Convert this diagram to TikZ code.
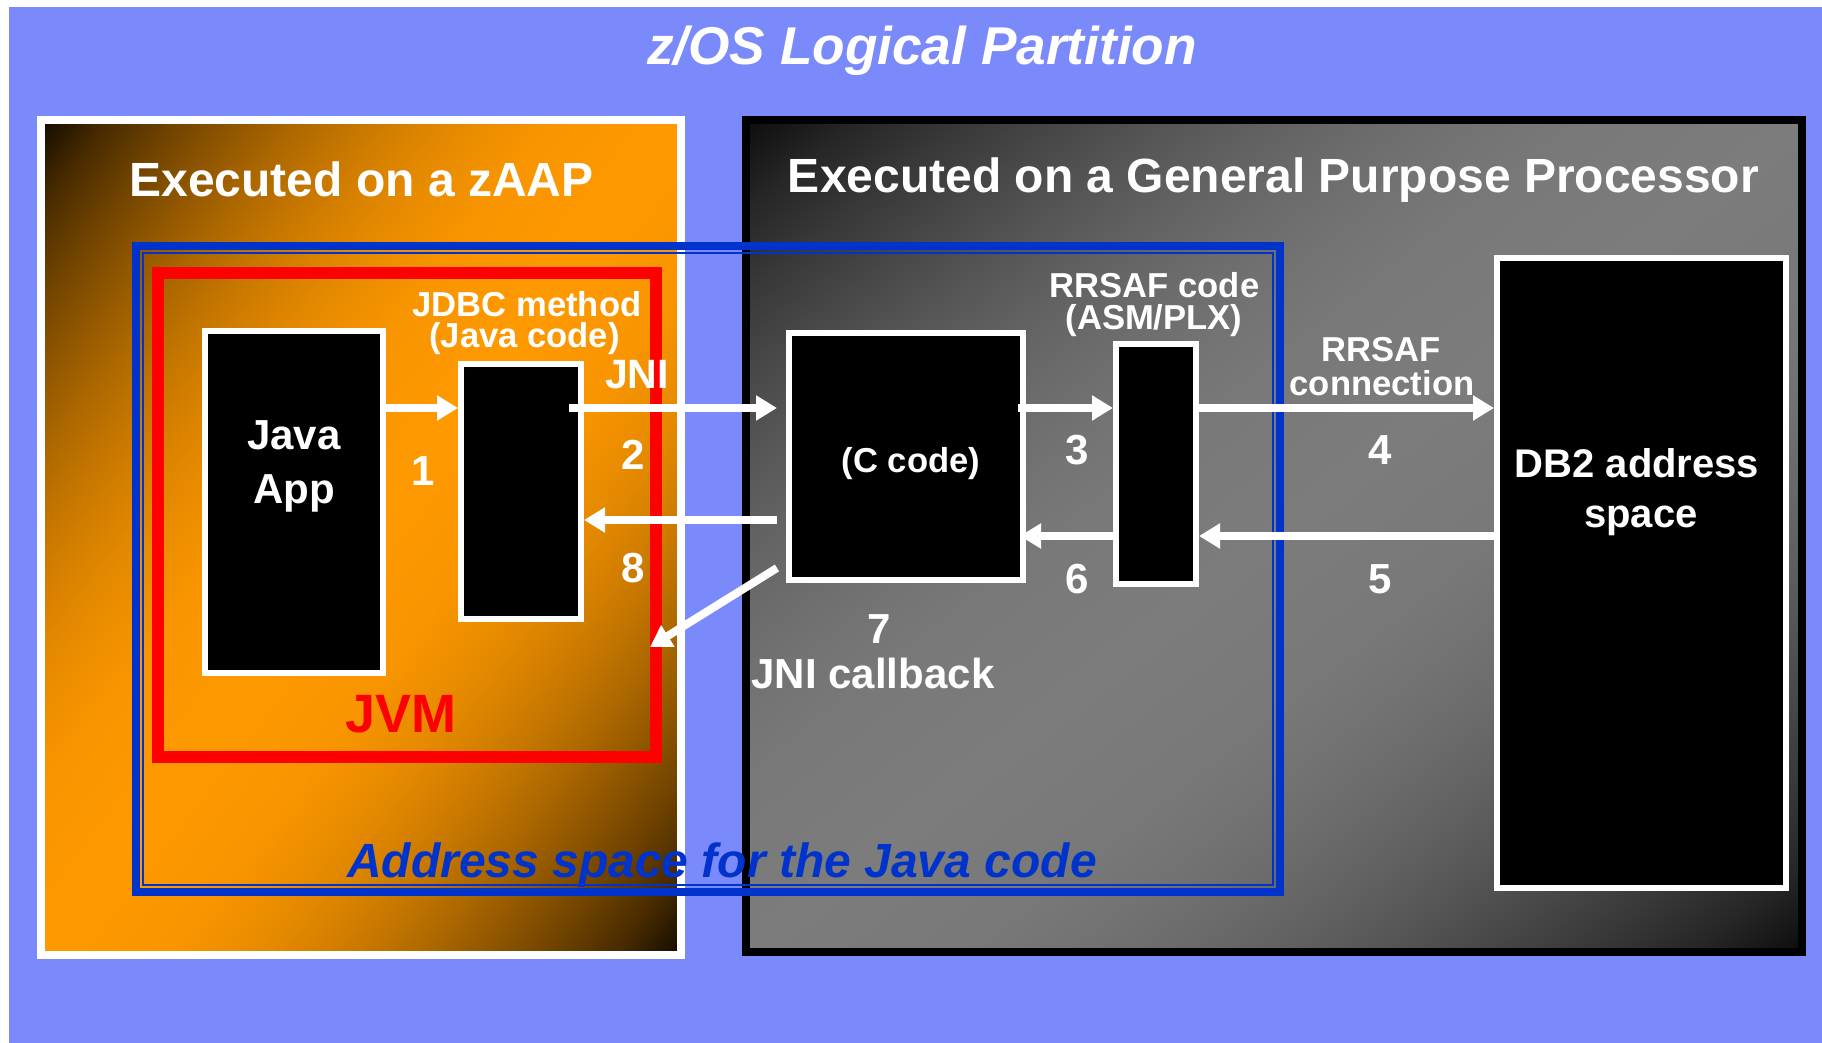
\documentclass[tikz,border=0pt]{standalone}
\usepackage{fontspec}
\setmainfont{Liberation Sans}
\usetikzlibrary{arrows.meta}
\definecolor{lav}{RGB}{123,138,251}
\definecolor{abl}{RGB}{0,51,204}
\definecolor{orng}{RGB}{255,153,0}
\definecolor{odark}{RGB}{20,12,0}
\definecolor{gmid}{RGB}{124,124,124}
\definecolor{gdark}{RGB}{14,14,14}
\pgfdeclarehorizontalshading{orangediag}{100bp}{color(0bp)=(odark); color(14.64bp)=(odark);
 color(18.18bp)=(orng!22!odark); color(21.71bp)=(orng!38!odark); color(25.25bp)=(orng!52!odark);
 color(28.78bp)=(orng!65!odark); color(32.32bp)=(orng!76!odark); color(35.85bp)=(orng!85!odark);
 color(39.39bp)=(orng!92!odark); color(42.93bp)=(orng!97!odark); color(50bp)=(orng);
 color(57.07bp)=(orng!97!odark); color(60.61bp)=(orng!92!odark); color(64.15bp)=(orng!85!odark);
 color(67.68bp)=(orng!76!odark); color(71.22bp)=(orng!65!odark); color(74.75bp)=(orng!52!odark);
 color(78.29bp)=(orng!38!odark); color(81.82bp)=(orng!22!odark); color(85.36bp)=(odark); color(100bp)=(odark)}
\pgfdeclarehorizontalshading{graydiag}{100bp}{color(0bp)=(gdark); color(14.64bp)=(gdark);
 color(18.18bp)=(gmid!22!gdark); color(21.71bp)=(gmid!38!gdark); color(25.25bp)=(gmid!52!gdark);
 color(28.78bp)=(gmid!65!gdark); color(32.32bp)=(gmid!76!gdark); color(35.85bp)=(gmid!85!gdark);
 color(39.39bp)=(gmid!92!gdark); color(42.93bp)=(gmid!97!gdark); color(50bp)=(gmid);
 color(57.07bp)=(gmid!97!gdark); color(60.61bp)=(gmid!92!gdark); color(64.15bp)=(gmid!85!gdark);
 color(67.68bp)=(gmid!76!gdark); color(71.22bp)=(gmid!65!gdark); color(74.75bp)=(gmid!52!gdark);
 color(78.29bp)=(gmid!38!gdark); color(81.82bp)=(gmid!22!gdark); color(85.36bp)=(gdark); color(100bp)=(gdark)}
\begin{document}
\begin{tikzpicture}[x=0.5pt,y=-0.5pt,
  blk/.style={draw=white, line width=3pt, fill=black, inner sep=0pt},
  txt/.style={text=white, inner sep=0pt, anchor=base, font=\bfseries\fontsize{21pt}{24pt}\selectfont},
  sml/.style={txt, font=\bfseries\fontsize{17.3pt}{20pt}\selectfont},
  hd/.style={txt, font=\bfseries\fontsize{24pt}{28pt}\selectfont},
  arr/.style={draw=white, line width=4pt, -{Triangle[length=10.5pt,width=12pt]}},
]
\useasboundingbox (0,0) rectangle (1822,1043);
\fill[white] (0,0) rectangle (1822,1043);
\fill[lav] (9,7) rectangle (1822,1043);

% zAAP box
\begin{scope}[transform canvas={xshift=20.5pt,yshift=-477.5pt,xscale=32,yscale=41.75}]
  \shade[shading=orangediag,shading angle=-45] (0pt,0pt) rectangle (10pt,10pt);
\end{scope}
\draw[white,line width=4pt] (41,120) rectangle (681,955);

% GPP box
\begin{scope}[transform canvas={xshift=373pt,yshift=-476pt,xscale=52.8,yscale=41.6}]
  \shade[shading=graydiag,shading angle=-45] (0pt,0pt) rectangle (10pt,10pt);
\end{scope}
\draw[black,line width=4pt] (746,120) rectangle (1802,952);

% address space (double blue line)
\draw[abl,line width=4pt] (136,246) rectangle (1280,892);
\draw[abl,line width=1pt] (143,253) rectangle (1273,885);

% JVM
\node[draw=red, line width=6pt, inner sep=0pt, minimum width=249pt, minimum height=242pt] (jvm) at (407,515) {};

% boxes
\node[blk, minimum width=89pt, minimum height=171pt] (japp) at (294,502) {};
\node[blk, minimum width=60pt, minimum height=127.5pt] (jdbc) at (521,491.5) {};
\node[blk, minimum width=117pt, minimum height=123.5pt] (ccode) at (906,456.5) {};
\node[blk, minimum width=40pt, minimum height=120pt] (rrsaf) at (1156,464) {};
\node[blk, minimum width=144.5pt, minimum height=315pt] (db2) at (1641.5,573) {};

% arrow levels
\coordinate (ya) at (0,408);
\coordinate (yb) at (0,520);
\coordinate (yc) at (0,536);
\coordinate (y7) at (0,568);
\coordinate (t7) at (650,647);

\draw[arr] (japp.east |- ya) -- (jdbc.west |- ya);
\draw[arr] ([xshift=-7.5pt]jdbc.east |- ya) -- ([xshift=-4.5pt]ccode.west |- ya);
\draw[arr] ([xshift=-4.5pt]ccode.west |- yb) -- (jdbc.east |- yb);
\draw[arr] ([xshift=-4.5pt]ccode.west |- y7) -- (t7);
\draw[arr] ([xshift=-4pt]ccode.east |- ya) -- (rrsaf.west |- ya);
\draw[arr] (rrsaf.east |- ya) -- (db2.west |- ya);
\draw[arr] (db2.west |- yc) -- (rrsaf.east |- yc);
\draw[arr] (rrsaf.west |- yc) -- ([xshift=-3pt]ccode.east |- yc);

% texts
\node[txt, font=\bfseries\itshape\fontsize{26.6pt}{30pt}\selectfont] (title) at (922,65) {z/OS Logical Partition};
\node[hd] (hz) at (361.5,197) {Executed on a zAAP};
\node[hd] (hg) at (1273.5,193) {Executed on a General Purpose Processor};
\node[sml] (jd1) at (527,317) {JDBC method};
\node[sml] (jd2) at (524.5,348) {(Java code)};
\node[txt, font=\bfseries\fontsize{20.5pt}{24pt}\selectfont] (jni) at (637,388) {JNI};
\node[txt] (n1) at (423,485) {1};
\node[txt] (n2) at (633,469) {2};
\node[txt] (n8) at (633,582) {8};
\node[txt] (ja1) at (294,450) {Java};
\node[txt] (ja2) at (294,503) {App};
\node[sml] (cc) at (911,473) {(C code)};
\node[sml] (rc1) at (1154.5,298) {RRSAF code};
\node[sml] (rc2) at (1154,330) {(ASM/PLX)};
\node[sml] (rn1) at (1381,362) {RRSAF};
\node[sml] (rn2) at (1382,395) {connection};
\node[txt] (n3) at (1077,465) {3};
\node[txt] (n4) at (1380,465) {4};
\node[txt] (n6) at (1077,593) {6};
\node[txt] (n5) at (1380,593) {5};
\node[txt, font=\bfseries\fontsize{20pt}{24pt}\selectfont] (db1) at (1637,478) {DB2 address};
\node[txt, font=\bfseries\fontsize{20pt}{24pt}\selectfont] (db2t) at (1641,527) {space};
\node[txt] (n7) at (879,643) {7};
\node[txt] (jcb) at (873,688) {JNI callback};
\node[txt, text=red, font=\bfseries\fontsize{27pt}{30pt}\selectfont] (jvmt) at (401,732) {JVM};
\node[txt, text=abl, font=\bfseries\itshape\fontsize{24pt}{28pt}\selectfont] (ast) at (722,877) {Address space for the Java code};
\end{tikzpicture}
\end{document}
